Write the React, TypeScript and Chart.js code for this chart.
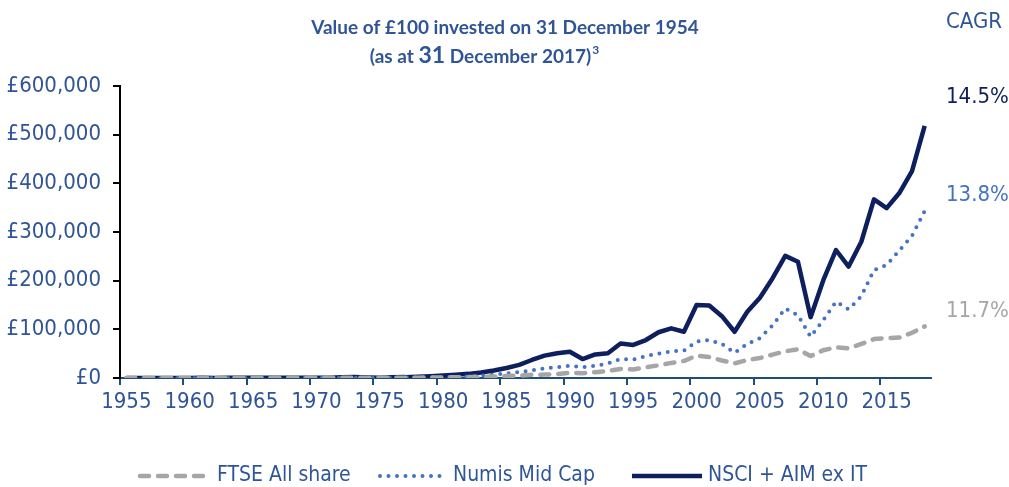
import React, { useEffect, useRef } from "react";
import { Chart, registerables } from "chart.js";

Chart.register(...registerables);

const years = [
  "1955", "1956", "1957", "1958", "1959",
  "1960", "1961", "1962", "1963", "1964", "1965", "1966", "1967", "1968", "1969",
  "1970", "1971", "1972", "1973", "1974", "1975", "1976", "1977", "1978", "1979",
  "1980", "1981", "1982", "1983", "1984", "1985", "1986", "1987", "1988", "1989",
  "1990", "1991", "1992", "1993", "1994", "1995", "1996", "1997", "1998", "1999",
  "2000", "2001", "2002", "2003", "2004", "2005", "2006", "2007", "2008", "2009",
  "2010", "2011", "2012", "2013", "2014", "2015", "2016", "2017", "2018",
];

const ftseAllShare = [
  100, 95, 92, 135, 200,
  195, 190, 200, 230, 210, 230, 215, 300, 430, 370,
  350, 510, 590, 410, 190, 480, 490, 700, 760, 850,
  1150, 1400, 1800, 2300, 2900, 3900, 5000, 6500, 7000, 8000,
  11000, 10000, 12000, 14500, 18500, 17500, 22000, 26000, 31000, 35000,
  46000, 43000, 36000, 30000, 37000, 41000, 48000, 55000, 59000, 45000,
  57000, 63000, 61000, 70000, 80000, 82000, 83000, 93000, 106000,
];

const numisMidCap = [
  100, 95, 95, 130, 200,
  190, 180, 190, 230, 210, 220, 200, 290, 450, 380,
  360, 600, 700, 500, 250, 550, 600, 950, 1100, 1400,
  1800, 2400, 3300, 4800, 7000, 9600, 12000, 15500, 20000, 22000,
  25000, 22000, 25000, 30000, 39000, 38000, 45000, 50000, 55000, 56000,
  75000, 78000, 70000, 52000, 70000, 82000, 108000, 143000, 129000, 85000,
  119000, 157000, 141000, 168000, 222000, 232000, 262000, 292000, 343000,
];

const nsciAimExIT = [
  100, 110, 95, 100, 150,
  240, 260, 240, 260, 320, 300, 310, 290, 600, 500,
  450, 700, 1400, 2200, 1200, 500, 1400, 1800, 2800, 3800,
  5000, 6500, 8500, 11500, 15500, 20500, 27000, 37000, 46000, 51000,
  54000, 39000, 48500, 51000, 71000, 68000, 78000, 94000, 102000, 95000,
  150000, 149000, 127000, 95000, 136000, 165000, 205000, 251000, 239000, 125000,
  201000, 263000, 229000, 280000, 367000, 349000, 380000, 425000, 518000,
];

const seriesNames = ["FTSE All share", "Numis Mid Cap", "NSCI + AIM ex IT"];
const cagrTitle = "CAGR";
const cagrLabels = ["14.5%", "13.8%", "11.7%"];
const titleLine1 = "Value of £100 invested on 31 December 1954";
const titleLine2Parts = ["(as at ", "31", " December 2017)", "3"];

const BLUE_TEXT = "#2f5597";
const NAVY = "#0d1f5c";
const MID_BLUE = "#4472c4";
const GREY = "#a6a6a6";
const FONT = '"Liberation Sans Narrow", "DejaVu Sans Condensed", "Noto Sans", sans-serif';
const TITLE_FONT = 'Lato, "Noto Sans", sans-serif';

const overlay = {
  id: "overlay",
  afterDraw(chart: any) {
    const ctx = chart.ctx as CanvasRenderingContext2D;
    ctx.save();
    // Title line 1
    ctx.fillStyle = BLUE_TEXT;
    ctx.textAlign = "center";
    ctx.textBaseline = "alphabetic";
    ctx.font = `bold 19px ${TITLE_FONT}`;
    ctx.fillText(titleLine1, 505, 34);

    // Title line 2 (mixed sizes + superscript)
    const fonts = [
      `bold 19px ${TITLE_FONT}`,
      `bold 23px ${TITLE_FONT}`,
      `bold 19px ${TITLE_FONT}`,
      `bold 12px ${TITLE_FONT}`,
    ];
    const widths = titleLine2Parts.map((p, i) => {
      ctx.font = fonts[i];
      return ctx.measureText(p).width;
    });
    const total = widths.reduce((a, b) => a + b, 0);
    let x = 484 - total / 2;
    ctx.textAlign = "left";
    titleLine2Parts.forEach((p, i) => {
      ctx.font = fonts[i];
      ctx.fillText(p, x, i === 3 ? 54 : 63);
      x += widths[i] + (i === 2 ? 1 : 0);
    });

    // CAGR labels
    ctx.textAlign = "left";
    ctx.textBaseline = "middle";
    ctx.font = `22px ${FONT}`;
    ctx.fillStyle = BLUE_TEXT;
    ctx.fillText(cagrTitle, 946, 22);
    ctx.fillStyle = NAVY;
    ctx.fillText(cagrLabels[0], 946, 97);
    ctx.fillStyle = MID_BLUE;
    ctx.fillText(cagrLabels[1], 946, 195);
    ctx.fillStyle = GREY;
    ctx.fillText(cagrLabels[2], 946, 311);

    // Legend
    const ly = 476;
    const ds = chart.data.datasets;
    const items = [
      { x0: 140, x1: 210, tx: 217 },
      { x0: 380, x1: 440, tx: 453 },
      { x0: 632, x1: 702, tx: 708 },
    ];
    items.forEach((it, i) => {
      const d = ds[i];
      ctx.beginPath();
      ctx.strokeStyle = d.borderColor;
      ctx.lineWidth = d.borderWidth;
      ctx.lineCap = d.borderCapStyle || "butt";
      ctx.setLineDash(d.borderDash || []);
      ctx.moveTo(it.x0, ly);
      ctx.lineTo(it.x1, ly);
      ctx.stroke();
      ctx.setLineDash([]);
      ctx.fillStyle = BLUE_TEXT;
      ctx.font = `21px ${FONT}`;
      ctx.textBaseline = "middle";
      ctx.fillText(d.label, it.tx, ly);
    });
    ctx.restore();
  },
};

export default function App() {
  const ref = useRef<HTMLCanvasElement | null>(null);

  useEffect(() => {
    if (!ref.current) return;
    const chart = new Chart(ref.current, {
      type: "line",
      data: {
        labels: years,
        datasets: [
          {
            label: seriesNames[0],
            data: ftseAllShare,
            borderColor: GREY,
            borderWidth: 4.5,
            borderDash: [9, 9],
            borderCapStyle: "round",
            pointRadius: 0,
            tension: 0,
            fill: false,
          },
          {
            label: seriesNames[1],
            data: numisMidCap,
            borderColor: MID_BLUE,
            borderWidth: 4,
            borderDash: [0, 8.5],
            borderCapStyle: "round",
            pointRadius: 0,
            tension: 0,
            fill: false,
          },
          {
            label: seriesNames[2],
            data: nsciAimExIT,
            borderColor: NAVY,
            borderWidth: 4.5,
            borderJoinStyle: "round",
            pointRadius: 0,
            tension: 0,
            fill: false,
          },
        ],
      },
      options: {
        responsive: false,
        animation: false,
        layout: { padding: { top: 86, right: 78, left: 0, bottom: 0 } },
        plugins: {
          legend: { display: false },
          tooltip: { enabled: false },
          title: { display: false },
        },
        scales: {
          x: {
            offset: true,
            grid: {
              offset: true,
              drawOnChartArea: false,
              tickLength: 7,
              lineWidth: 2,
              color: (c: any) => (c.index % 5 === 0 && c.index < years.length ? "#1f4e79" : "rgba(0,0,0,0)"),
            },
            border: { color: "#1f4e79", width: 2 },
            ticks: {
              autoSkip: false,
              maxRotation: 0,
              minRotation: 0,
              padding: 4,
              color: BLUE_TEXT,
              font: { family: FONT, size: 22 },
              callback: (_v: any, i: number) => (i % 5 === 0 ? years[i] : ""),
            },
            afterFit: (s: any) => {
              s.height = 109;
            },
          },
          y: {
            min: 0,
            max: 600000,
            ticks: {
              stepSize: 100000,
              padding: 12,
              color: BLUE_TEXT,
              font: { family: FONT, size: 22 },
              callback: (v: any) => "£" + Number(v).toLocaleString("en-GB"),
            },
            grid: { drawOnChartArea: false, color: "#000", tickLength: 7, lineWidth: 2 },
            border: { color: "#000", width: 2 },
            afterFit: (s: any) => {
              s.width = 120;
            },
          },
        },
      },
      plugins: [overlay],
    } as any);
    return () => chart.destroy();
  }, []);

  return (
    <div style={{ position: "absolute", left: 0, top: 0, width: 1009, height: 487, background: "#fff" }}>
      <canvas ref={ref} width={1009} height={487} style={{ display: "block" }} />
    </div>
  );
}
